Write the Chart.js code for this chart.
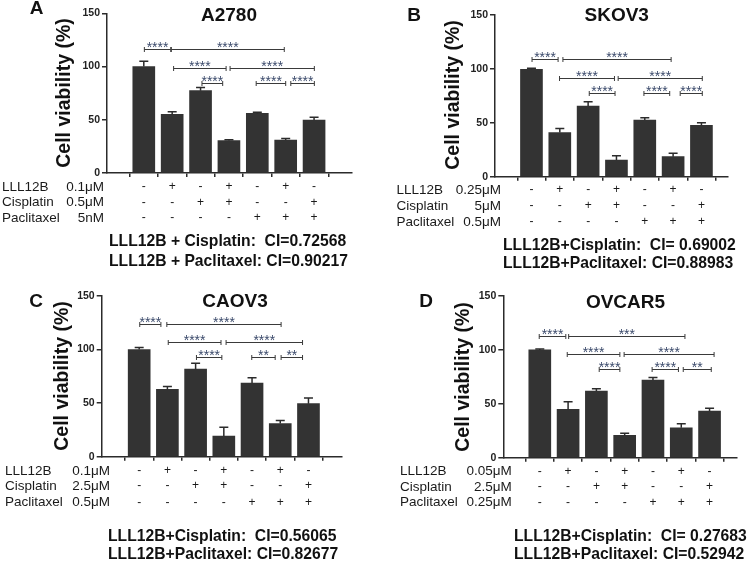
<!DOCTYPE html>
<html>
<head>
<meta charset="utf-8">
<script src="https://cdn.jsdelivr.net/npm/chart.js@4.4.0/dist/chart.umd.min.js"></script>
<style>
  body { margin: 0; background: #fff; }
  #wrap { position: relative; width: 750px; height: 562px; background: #fff; }
  canvas { position: absolute; }
</style>
</head>
<body>
<div id="wrap">
  <canvas id="chartA" width="375" height="281" style="left:0;top:0"></canvas>
  <canvas id="chartB" width="375" height="281" style="left:375px;top:0"></canvas>
  <canvas id="chartC" width="375" height="281" style="left:0;top:281px"></canvas>
  <canvas id="chartD" width="375" height="281" style="left:375px;top:281px"></canvas>
</div>
<script>
// treatment rows, the same for every cell line
const lll12bRow = ["-", "+", "-", "+", "-", "+", "-"];
const cisplatinRow = ["-", "-", "+", "+", "-", "-", "+"];
const paclitaxelRow = ["-", "-", "-", "-", "+", "+", "+"];
const drugNames = ["LLL12B", "Cisplatin", "Paclitaxel"];
const yTicks = [0, 50, 100, 150];

// A2780
const a2780Mean = [100, 55, 77.3, 30.4, 56, 31, 49.8];
const a2780Sem = [5, 2.5, 3, 0.8, 1, 1.5, 2.5];
const a2780Doses = ["0.1μM", "0.5μM", "5nM"];
// [from bar, to bar, height (%), label]
const a2780Sig = [
    [0.02, 0.95, 116.5, "****"], [0.97, 4.95, 116.5, "****"],
    [1.05, 2.9, 98.3, "****"], [3.04, 6.01, 98.3, "****"],
    [2.05, 2.78, 84.9, "****"], [3.96, 5.0, 84.9, "****"], [5.18, 6.01, 84.9, "****"]
];
const a2780CI = ["LLL12B + Cisplatin:  CI=0.72568", "LLL12B + Paclitaxel: CI=0.90217"];

// SKOV3
const skov3Mean = [99.5, 41, 65.6, 15.5, 52.6, 18.6, 47.6];
const skov3Sem = [1, 3.7, 4, 4, 2, 3.1, 2.5];
const skov3Doses = ["0.25μM", "5μM", "0.5μM"];
const skov3Sig = [
    [0.02, 0.94, 108.9, "****"], [1.11, 4.93, 108.9, "****"],
    [0.99, 2.93, 91.9, "****"], [3.06, 6.03, 91.9, "****"],
    [2.04, 2.95, 77.3, "****"], [3.97, 4.88, 77.3, "****"], [5.25, 6.03, 77.3, "****"]
];
const skov3CI = ["LLL12B+Cisplatin:  CI= 0.69002", "LLL12B+Paclitaxel: CI=0.88983"];

// CAOV3
const caov3Mean = [100, 63, 81.7, 19.2, 68.7, 30.9, 49.5];
const caov3Sem = [2, 2.5, 5.5, 8.3, 5, 2.8, 5.2];
const caov3Doses = ["0.1μM", "2.5μM", "0.5μM"];
const caov3Sig = [
    [0.02, 0.77, 123.4, "****"], [0.98, 5.03, 123.4, "****"],
    [1.03, 2.9, 107.3, "****"], [3.08, 5.79, 107.3, "****"],
    [2.03, 2.93, 93.4, "****"], [3.99, 4.82, 93.4, "**"], [5.03, 5.79, 93.4, "**"]
];
const caov3CI = ["LLL12B+Cisplatin:  CI=0.56065", "LLL12B+Paclitaxel: CI=0.82677"];

// OVCAR5
const ovcar5Mean = [100, 44.8, 61.9, 20.7, 72.1, 27.8, 43.3];
const ovcar5Sem = [0.8, 7.2, 2.1, 1.9, 2.4, 3.7, 2.5];
const ovcar5Doses = ["0.05μM", "2.5μM", "0.25μM"];
const ovcar5Sig = [
    [-0.02, 0.92, 112.9, "****"], [1.02, 5.13, 112.9, "***"],
    [0.97, 2.83, 96.5, "****"], [2.98, 6.16, 96.5, "****"],
    [2.1, 2.83, 82.6, "****"], [3.97, 4.9, 82.6, "****"], [5.07, 6.06, 82.6, "**"]
];
const ovcar5CI = ["LLL12B+Cisplatin:  CI= 0.27683", "LLL12B+Paclitaxel: CI=0.52942"];

const FONT = "'Liberation Sans', Arial, sans-serif";
const INK = "#2b2b2b";

// panel layout (pixels inside each 375x281 canvas)
const panels = [
    { id: "chartA", letter: "A", title: "A2780", mean: a2780Mean, sem: a2780Sem, sig: a2780Sig, doses: a2780Doses, ci: a2780CI,
      axisX: 107, right: 23, top: 13.3, bottom: 173, xMin: -0.68, xMax: 6.72,
      letterPos: [36.5, 8.5], titlePos: [229, 15.7], yTitlePos: [65, 93],
      labelX: 2, doseRight: 104, rowsY: [187, 202.5, 218], ciPos: [109, 242, 262] },
    { id: "chartB", letter: "B", title: "SKOV3", mean: skov3Mean, sem: skov3Sem, sig: skov3Sig, doses: skov3Doses, ci: skov3CI,
      axisX: 120, right: 22, top: 15, bottom: 176.7, xMin: -0.7, xMax: 6.35,
      letterPos: [39, 15.3], titlePos: [241.7, 15.8], yTitlePos: [79, 95],
      labelX: 21.5, doseRight: 126, rowsY: [190, 206, 222], ciPos: [128, 245.7, 263.3] },
    { id: "chartC", letter: "C", title: "CAOV3", mean: caov3Mean, sem: caov3Sem, sig: caov3Sig, doses: caov3Doses, ci: caov3CI,
      axisX: 101.7, right: 33, top: 15, bottom: 175.7, xMin: -0.72, xMax: 6.58,
      letterPos: [36, 20.8], titlePos: [235, 20.8], yTitlePos: [63, 95],
      labelX: 5, doseRight: 110, rowsY: [190, 205, 221.7], ciPos: [108, 255.7, 274] },
    { id: "chartD", letter: "D", title: "OVCAR5", mean: ovcar5Mean, sem: ovcar5Sem, sig: ovcar5Sig, doses: ovcar5Doses, ci: ovcar5CI,
      axisX: 128.3, right: 13, top: 15, bottom: 176.7, xMin: -0.7, xMax: 6.38,
      letterPos: [51, 20.8], titlePos: [250.5, 21.7], yTitlePos: [89, 96],
      labelX: 25, doseRight: 136.7, rowsY: [190.7, 206, 221.7], ciPos: [139, 255.7, 274] }
];

// error bars, brackets, titles and treatment table
const extras = {
    id: "extras",
    afterDatasetsDraw(chart) {
        const p = chart.options.panel;
        const ctx = chart.ctx;
        const xs = chart.scales.x;
        const ys = chart.scales.y;
        const bars = chart.getDatasetMeta(0).data;
        ctx.save();

        // SEM whiskers (upper only)
        ctx.strokeStyle = INK;
        ctx.lineWidth = 1.5;
        bars.forEach((bar, i) => {
            const yTop = ys.getPixelForValue(p.mean[i] + p.sem[i]);
            ctx.beginPath();
            ctx.moveTo(bar.x, bar.y);
            ctx.lineTo(bar.x, yTop);
            ctx.moveTo(bar.x - 4.5, yTop);
            ctx.lineTo(bar.x + 4.5, yTop);
            ctx.stroke();
        });

        // significance brackets
        p.sig.forEach(([a, b, v, lab]) => {
            const x1 = xs.getPixelForValue(a);
            const x2 = xs.getPixelForValue(b);
            const y = Math.round(ys.getPixelForValue(v)) + 0.5;
            ctx.strokeStyle = "#3a3a3a";
            ctx.lineWidth = 1;
            ctx.beginPath();
            ctx.moveTo(x1, y); ctx.lineTo(x2, y);
            ctx.moveTo(x1, y - 2.5); ctx.lineTo(x1, y + 2.5);
            ctx.moveTo(x2, y - 2.5); ctx.lineTo(x2, y + 2.5);
            ctx.stroke();
            ctx.font = "14px " + FONT;
            ctx.fillStyle = "#3b4a6b";
            ctx.textAlign = "center";
            ctx.textBaseline = "alphabetic";
            const m = ctx.measureText(lab);
            const off = (m.actualBoundingBoxAscent - m.actualBoundingBoxDescent) / 2;
            ctx.fillText(lab, (x1 + x2) / 2, y - 4.5 + off);
        });

        ctx.fillStyle = "#111";
        ctx.textBaseline = "middle";

        // panel letter and title
        ctx.font = "bold 19px " + FONT;
        ctx.textAlign = "center";
        ctx.fillText(p.letter, p.letterPos[0], p.letterPos[1]);
        ctx.fillText(p.title, p.titlePos[0], p.titlePos[1]);

        // y axis title
        ctx.save();
        ctx.translate(p.yTitlePos[0], p.yTitlePos[1]);
        ctx.rotate(-Math.PI / 2);
        ctx.font = "bold 19.5px " + FONT;
        ctx.fillText("Cell viability (%)", 0, 0);
        ctx.restore();

        // treatment table
        const rows = [lll12bRow, cisplatinRow, paclitaxelRow];
        ctx.fillStyle = "#1a1a1a";
        rows.forEach((row, r) => {
            const y = p.rowsY[r];
            ctx.font = "13.5px " + FONT;
            ctx.textAlign = "left";
            ctx.fillText(drugNames[r], p.labelX, y);
            ctx.textAlign = "right";
            ctx.fillText(p.doses[r], p.doseRight, y);
            ctx.font = "12px " + FONT;
            ctx.textAlign = "center";
            row.forEach((s, i) => ctx.fillText(s, bars[i].x, y));
        });

        // combination index lines
        ctx.font = "bold 15.7px " + FONT;
        ctx.textAlign = "left";
        ctx.fillStyle = "#111";
        ctx.fillText(p.ci[0], p.ciPos[0], p.ciPos[1]);
        ctx.fillText(p.ci[1], p.ciPos[0], p.ciPos[2]);

        ctx.restore();
    }
};

const makeChart = (p) => {
    const ctx = document.getElementById(p.id);
    return new Chart(ctx, {
        type: "bar",
        data: {
            datasets: [{
                data: p.mean.map((v, i) => ({ x: i, y: v })),
                backgroundColor: "#333333",
                barThickness: 22
            }]
        },
        options: {
            panel: p,
            responsive: false,
            animation: false,
            devicePixelRatio: 1,
            layout: { padding: { top: p.top, right: p.right, left: 0, bottom: 0 } },
            plugins: { legend: { display: false }, tooltip: { enabled: false } },
            scales: {
                x: {
                    type: "linear",
                    min: p.xMin,
                    max: p.xMax,
                    afterBuildTicks: s => { s.ticks = p.mean.map((_, i) => ({ value: i })); },
                    afterFit: s => { s.height = 281 - p.bottom; },
                    ticks: { display: false },
                    grid: { display: true, drawOnChartArea: false, tickLength: 4, color: INK, lineWidth: 1.5 },
                    border: { color: INK, width: 1.5 }
                },
                y: {
                    min: 0,
                    max: 150,
                    afterBuildTicks: s => { s.ticks = yTicks.map(v => ({ value: v })); },
                    afterFit: s => { s.width = p.axisX; },
                    ticks: { color: "#222", padding: 2, font: { family: FONT, size: 10.5, weight: "bold" } },
                    grid: { drawOnChartArea: false, tickLength: 5, color: INK, lineWidth: 1.5 },
                    border: { color: INK, width: 1.5 }
                }
            }
        },
        plugins: [extras]
    });
};

panels.forEach(makeChart);
</script>
</body>
</html>
